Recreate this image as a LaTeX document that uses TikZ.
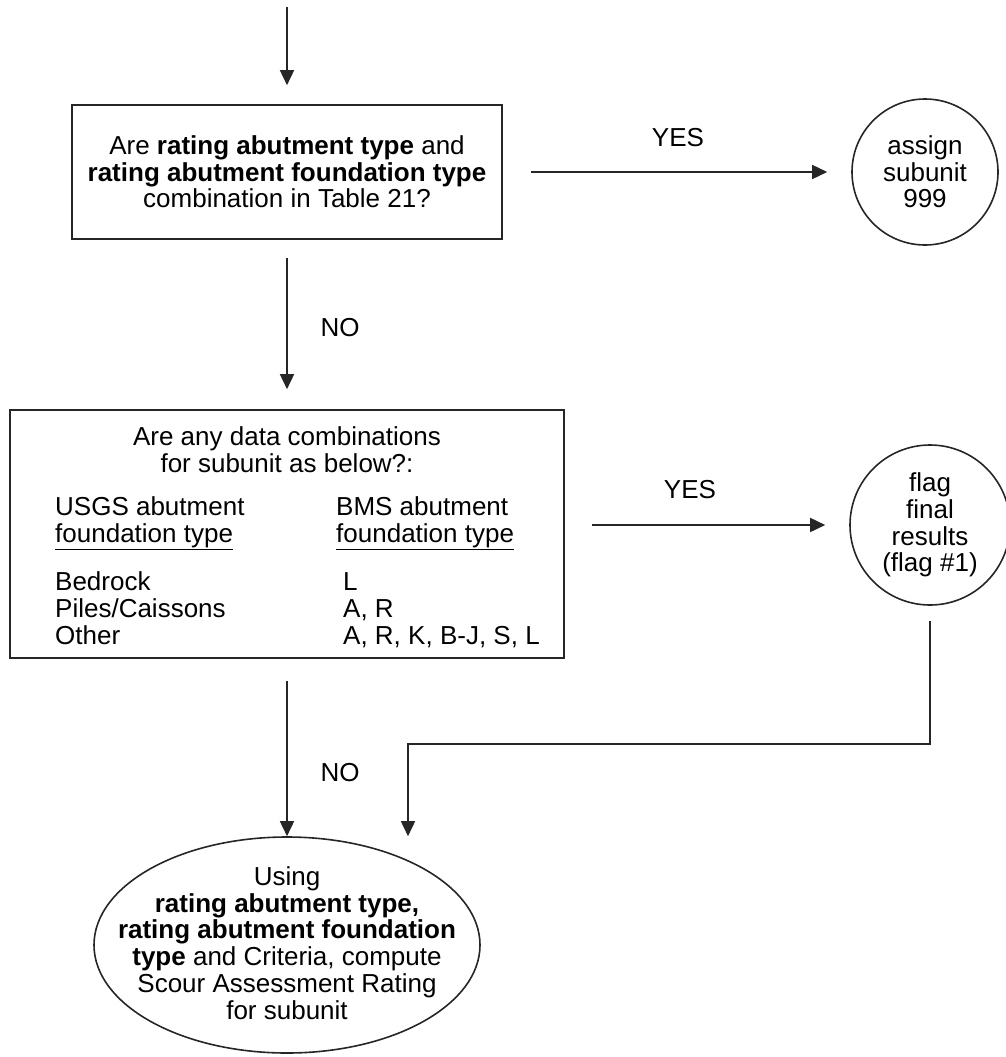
\documentclass[tikz,border=0pt]{standalone}
\usepackage{fontspec}
\setmainfont{Liberation Sans}
\usetikzlibrary{arrows.meta,shapes.geometric}
\begin{document}
\begin{tikzpicture}[x=1pt,y=-1pt,
  every node/.style={font=\fontsize{26}{26.7}\selectfont, inner sep=0pt},
  line/.style={line width=1.6pt, draw=black!85},
  arr/.style={line, -{Triangle[length=15pt,width=14pt]}},
  boxnode/.style={line, rectangle, align=center},
  roundnode/.style={line, circle, align=center},
  ovalnode/.style={line, ellipse},
  lbl/.style={anchor=center}
]
\useasboundingbox (0,0) rectangle (1005,1057);

% nodes
\node[boxnode, minimum width=430pt, minimum height=134pt] (box1) at (287,172)
  {Are \textbf{rating abutment type} and\\\textbf{rating abutment foundation type}\\combination in Table 21?};
\node[roundnode, minimum size=146pt] (circ1) at (925,172) {assign\\subunit\\999};

\node[boxnode, minimum width=554pt, minimum height=248pt] (box2) at (287,534) {};
\node[anchor=base, align=center] (q2) at (287,472) {Are any data combinations\\for subunit as below?:};
\node[anchor=base west, align=left] (usgs) at (55,542) {USGS abutment\\\underline{foundation type}};
\node[anchor=base west, align=left] (bms) at (336,542) {BMS abutment\\\underline{foundation type}};
\node[anchor=base west, align=left] (usgsv) at (55,644) {Bedrock\\Piles/Caissons\\Other};
\node[anchor=base west, align=left] (bmsv) at (343,644) {L\\A, R\\A, R, K, B-J, S, L};

\node[roundnode, minimum size=160pt] (circ2) at (930,525) {flag\\final\\results\\(flag \#1)};

\node[ovalnode, minimum width=386pt, minimum height=216pt] (ell) at (287,945) {};
\node[align=center] (elltext) at (287,943)
  {Using\\\textbf{rating abutment type,}\\\textbf{rating abutment foundation}\\\textbf{type} and Criteria, compute\\Scour Assessment Rating\\for subunit};

\node[lbl] (yes1) at (678,138) {YES};
\node[lbl] (yes2) at (690,490) {YES};
\node[lbl] (no1) at (340,328) {NO};
\node[lbl] (no2) at (340,773) {NO};

\coordinate (start) at (287,7);
\coordinate (join) at (408,744);

% connectors
\draw[arr, shorten >=19pt] (start) -- (box1.north);
\draw[arr, shorten <=28pt, shorten >=24pt] (box1.east) -- (circ1.west);
\draw[arr, shorten <=18pt, shorten >=20pt] (box1.south) -- (box2.north);
\draw[arr, shorten <=27pt, shorten >=24pt] (box2.east |- circ2.west) -- (circ2.west);
\draw[arr, shorten <=22pt] (box2.south) -- (ell.north);
\draw[arr, shorten <=15pt] (circ2.south) |- (join) -- (join |- ell.north);
\end{tikzpicture}
\end{document}
